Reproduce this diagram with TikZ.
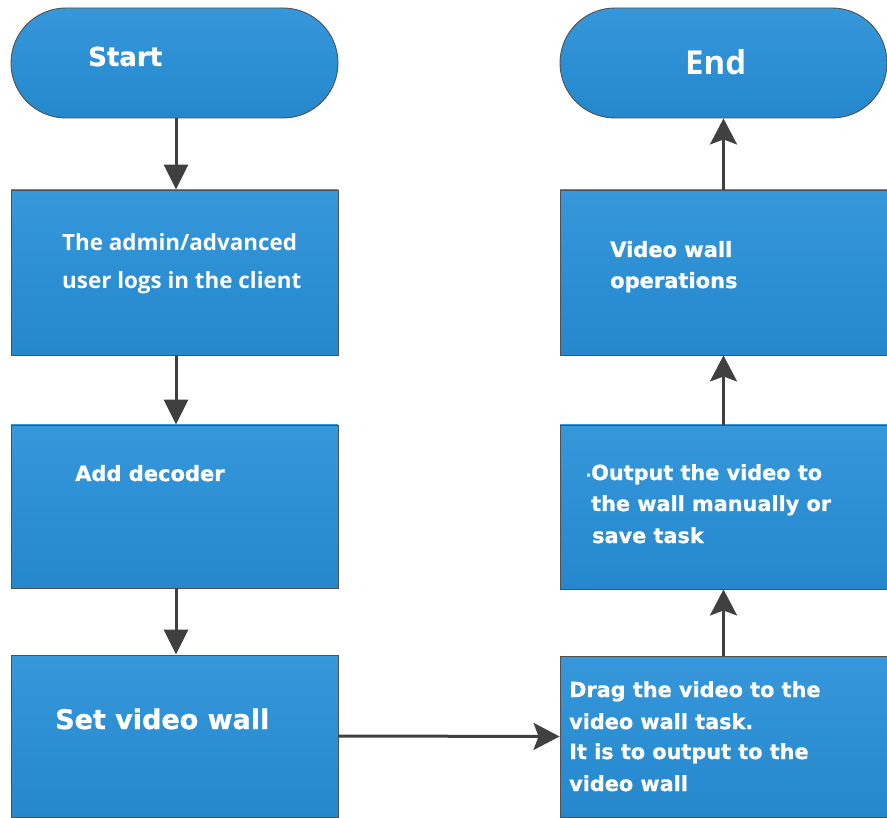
\documentclass[tikz,border=0pt]{standalone}
\usepackage{fontspec}
\setmainfont{DejaVu Sans}[BoldFeatures={FakeBold=0.9}]
\newfontfamily\osans{Open Sans}
\usetikzlibrary{arrows.meta}
\definecolor{boxtop}{HTML}{3698DB}
\definecolor{boxbot}{HTML}{2587CC}
\definecolor{edgegray}{HTML}{505050}
\definecolor{arrowgray}{HTML}{404040}
\tikzset{
  box/.style={draw=edgegray, line width=0.9pt, top color=boxtop, bottom color=boxbot,
    minimum width=327pt, inner sep=0pt},
  term/.style={box, minimum height=110pt, rounded corners=55pt},
  lbl/.style={text=white, inner sep=0pt, anchor=base west},
  vb/.style={font=\bfseries\fontsize{#1}{#1}\selectfont},
  ob/.style={font=\osans\bfseries\fontsize{#1}{#1}\selectfont},
  flowdown/.style={draw=arrowgray, line width=3pt, -{Triangle[width=24pt,length=25pt]}},
  flow/.style={draw=arrowgray, line width=3pt, -{Stealth[width=27pt,length=26pt,inset=5pt]}},
}
\begin{document}
\begin{tikzpicture}[x=1pt,y=-1pt]
\useasboundingbox (0,0) rectangle (887,818);
\clip (0,0) rectangle (887,818);

% left column
\node[term] (start) at (174.5,63) {};
\node[box, minimum height=165pt] (b1) at (174.5,272.5) {};
\node[box, minimum height=163pt] (b2) at (174.5,506.5) {};
\node[box, minimum height=162pt] (b3) at (174.5,736) {};

% right column
\node[term] (end) at (723.5,63) {};
\node[box, minimum height=165pt] (r1) at (723.5,272.5) {};
\node[box, minimum height=164pt] (r2) at (723.5,507) {};
\node[box, minimum height=161pt] (r3) at (723.5,736.5) {};

% labels
\node[lbl, vb=26] (tstart) at (88,66) {Start};
\node[lbl, ob=33] (tend) at (685,75) {End};

\node[lbl, ob=22.4] (t1a) at (62,251) {The admin/advanced};
\node[lbl, ob=22.4] (t1b) at (62,289) {user logs in the client};

\node[lbl, vb=21] (t2) at (75,481) {Add decoder};
\node[lbl, vb=27] (t3) at (55,729) {Set video wall};

\node[lbl, vb=21] (u1a) at (610,257) {Video wall};
\node[lbl, vb=21] (u1b) at (610,288) {operations};

\node[lbl, vb=20.8] (u2a) at (591,480) {\llap{\fontsize{14}{14}\selectfont·}Output the video to};
\node[lbl, vb=20.8] (u2b) at (591,511) {the wall manually or};
\node[lbl, vb=20.8] (u2c) at (592,543) {save task};

\node[lbl, vb=20.8] (u3a) at (569,697) {Drag the video to the};
\node[lbl, vb=20.8] (u3b) at (569,729) {video wall task.};
\node[lbl, vb=20.8] (u3c) at (569,759) {It is to output to the};
\node[lbl, vb=20.8] (u3d) at (569,791) {video wall};

% connectors
\draw[flowdown] ([xshift=1.5pt]start.south) -- ([xshift=1.5pt]b1.north);
\draw[flowdown] ([xshift=1.5pt]b1.south) -- ([xshift=1.5pt]b2.north);
\draw[flowdown] ([xshift=1.5pt]b2.south) -- ([xshift=1.5pt]b3.north);
\draw[flow] (b3.east) -- (r3.west);
\draw[flow] (r3.north) -- (r2.south);
\draw[flow] (r2.north) -- (r1.south);
\draw[flow] (r1.north) -- (end.south);
\end{tikzpicture}
\end{document}
